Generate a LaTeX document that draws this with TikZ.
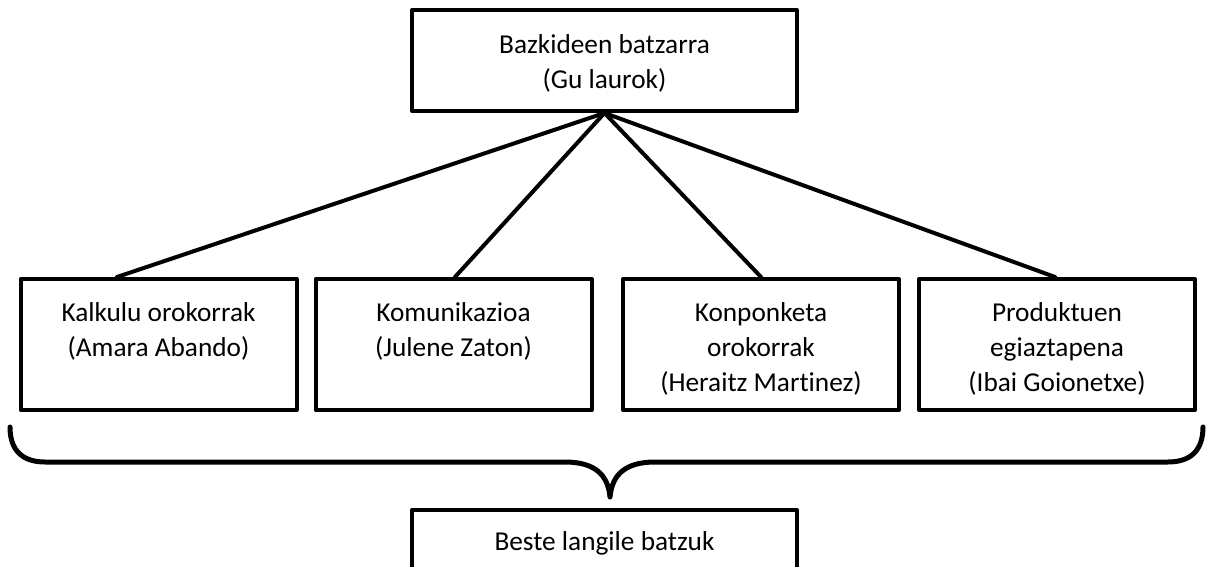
\documentclass[tikz,border=0pt]{standalone}
\usepackage{fontspec}
\setmainfont{Carlito}[Ligatures=NoCommon]
\usetikzlibrary{positioning}
\begin{document}
\begin{tikzpicture}[x=1pt, y=-1pt, line join=round, line cap=round,
	font=\fontsize{27.3pt}{35pt}\selectfont,
	box/.style={draw, line width=4pt, inner sep=0pt, minimum width=276pt, minimum height=131pt},
	wide/.style={box, minimum width=385pt, minimum height=101pt},
	lbl/.style={align=center, inner sep=0pt},
	link/.style={line width=4pt}]
	\clip(0,0)rectangle(1210,567);
	% boxes
	\node[wide](bazk)at(604.5,60.5){};
	\node[box](k1)at(158.5,344.5){};
	\node[box](k2)at(453.5,344.5){};
	\node[box](k3)at(761,344.5){};
	\node[box](k4)at(1057,344.5){};
	\node[wide](beste)at(604.5,560.5){};
	% texts
	\node[lbl,below=26pt of bazk.north](bazkt){Bazkideen batzarra\\(Gu laurok)};
	\node[lbl,below=25pt of k1.north](k1t){Kalkulu orokorrak\\(Amara Abando)};
	\node[lbl,below=25pt of k2.north](k2t){Komunikazioa\\(Julene Zaton)};
	\node[lbl,below=25pt of k3.north](k3t){Konponketa\\orokorrak\\(Heraitz Martinez)};
	\node[lbl,below=25pt of k4.north](k4t){Produktuen\\egiaztapena\\(Ibai Goionetxe)};
	\node[lbl,below=23pt of beste.north](bestet){Beste langile batzuk};
	% lines
	\draw[link](bazk.south)--([xshift=-41.5pt]k1.north);
	\draw[link](bazk.south)--([xshift=1.5pt]k2.north);
	\draw[link](bazk.south)--(k3.north);
	\draw[link](bazk.south)--([xshift=-2pt]k4.north);
	% brace
	\draw[line width=5pt](10,427)..controls(10,450)and(22,462)..(45,462)--(565,462)
		..controls(595,462)and(608,475)..(610,497)
		..controls(612,475)and(625,462)..(655,462)--(1168,462)
		..controls(1191,462)and(1203,450)..(1203,427);
\end{tikzpicture}
\end{document}
